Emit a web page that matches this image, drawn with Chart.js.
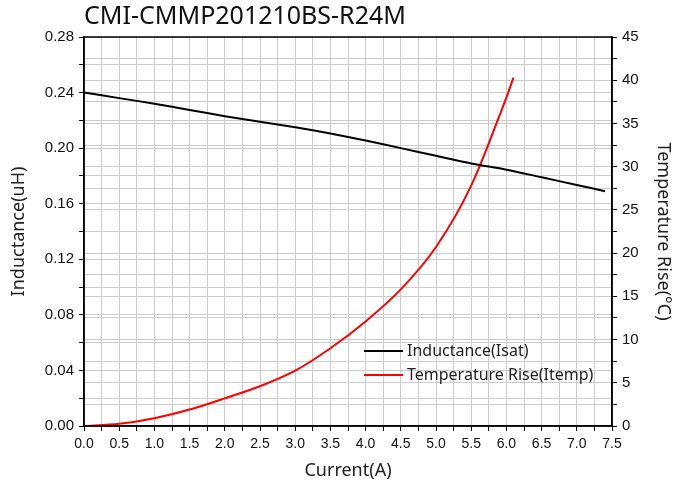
<!DOCTYPE html>
<html>
<head>
<meta charset="utf-8">
<script src="https://cdn.jsdelivr.net/npm/chart.js@4.4.1/dist/chart.umd.min.js"></script>
<style>
  html, body { margin: 0; padding: 0; background: #fff; }
  #wrap { width: 678px; height: 486px; }
</style>
</head>
<body>
<div id="wrap"><canvas id="chart"></canvas></div>
<script>
// inductance vs current
const indCurrent = [0, 0.5, 1.0, 1.5, 2.0, 2.5, 3.0, 3.5, 4.0, 4.5, 5.0, 5.5, 6.0, 6.5, 7.0, 7.4];
const indValues = [0.240, 0.236, 0.232, 0.2275, 0.223, 0.219, 0.215, 0.2105, 0.2055, 0.200, 0.1945, 0.189, 0.1845, 0.179, 0.1735, 0.169];

// temperature rise vs current
const tempCurrent = [0, 0.5, 1.0, 1.5, 2.0, 2.5, 3.0, 3.5, 4.0, 4.5, 5.0, 5.5, 6.0, 6.1];
const tempValues = [0, 0.25, 0.9, 1.9, 3.2, 4.6, 6.4, 9.0, 12.1, 15.8, 20.7, 27.8, 38.0, 40.3];

const seriesLabels = ['Inductance(Isat)', 'Temperature Rise(Itemp)'];
const titleText = 'CMI-CMMP201210BS-R24M';

const xTickFont = { family: 'Liberation Sans', size: 14 };
const yTickFont = { family: 'Liberation Sans', size: 15 };
const labelFont = { family: 'Noto Sans', size: 18 };

function isMultiple(v, step) {
  let r = v / step;
  return Math.abs(r - Math.round(r)) < 1e-6;
}

// frame around the plot + legend inside the plot
const framePlugin = {
  id: 'frame',
  afterDraw(chart) {
    const ctx = chart.ctx;
    const a = chart.chartArea;
    ctx.save();
    ctx.strokeStyle = '#000';
    ctx.lineWidth = 1.5;
    ctx.strokeRect(a.left, a.top, a.right - a.left, a.bottom - a.top);

    // legend
    ctx.font = '16px "Noto Sans"';
    ctx.textBaseline = 'middle';
    chart.data.datasets.forEach(function (ds, i) {
      let y = 351 + i * 24;
      ctx.strokeStyle = ds.borderColor;
      ctx.lineWidth = 2;
      ctx.beginPath();
      ctx.moveTo(364, y);
      ctx.lineTo(403, y);
      ctx.stroke();
      ctx.fillStyle = '#222';
      ctx.fillText(ds.label, 407, y);
    });
    ctx.restore();
  }
};

const config = {
  type: 'line',
  data: {
    datasets: [
      {
        label: seriesLabels[0],
        data: indCurrent.map((x, i) => ({ x: x, y: indValues[i] })),
        borderColor: '#000000',
        borderWidth: 2,
        pointRadius: 0,
        tension: 0.3,
        yAxisID: 'y',
      },
      {
        label: seriesLabels[1],
        data: tempCurrent.map((x, i) => ({ x: x, y: tempValues[i] })),
        borderColor: '#ff0000',
        borderWidth: 2,
        pointRadius: 0,
        tension: 0.3,
        yAxisID: 'y2',
      },
    ],
  },
  options: {
    responsive: true,
    maintainAspectRatio: false,
    animation: false,
    layout: { padding: 0 },
    plugins: {
      legend: { display: false },
      tooltip: { enabled: false },
      title: {
        display: true,
        text: titleText,
        align: 'start',
        fullSize: false,
        color: '#111',
        font: { family: 'Noto Sans', size: 25, weight: 'normal', lineHeight: 1.2 },
        padding: { top: 2, bottom: 5 },
      },
    },
    scales: {
      x: {
        type: 'linear',
        min: 0,
        max: 7.5,
        afterFit(scale) { scale.height = 60; },
        ticks: {
          stepSize: 0.25,
          autoSkip: false,
          maxRotation: 0,
          padding: 5,
          color: '#111',
          font: xTickFont,
          callback: (v) => (isMultiple(v, 0.5) ? v.toFixed(1) : ''),
        },
        grid: { color: '#cccccc', tickColor: '#000', tickLength: 5 },
        border: { color: '#000', width: 1.5 },
        title: { display: true, text: 'Current(A)', color: '#222', font: labelFont, padding: { top: 16 } },
      },
      y: {
        position: 'left',
        min: 0,
        max: 0.28,
        afterFit(scale) { scale.width = 84; },
        ticks: {
          stepSize: 0.02,
          autoSkip: false,
          padding: 5,
          color: '#111',
          font: yTickFont,
          callback: (v) => (isMultiple(v, 0.04) ? v.toFixed(2) : ''),
        },
        grid: { color: '#cccccc', tickColor: '#000', tickLength: 5 },
        border: { color: '#000', width: 1.5 },
        title: { display: true, text: 'Inductance(uH)', color: '#222', font: labelFont, padding: { top: 8, bottom: 0 } },
      },
      y2: {
        position: 'right',
        min: 0,
        max: 45,
        afterFit(scale) { scale.width = 66; },
        ticks: {
          stepSize: 2.5,
          autoSkip: false,
          padding: 5,
          color: '#111',
          font: yTickFont,
          callback: (v) => (isMultiple(v, 5) ? String(v) : ''),
        },
        grid: { color: '#cccccc', tickColor: '#000', tickLength: 5 },
        border: { color: '#000', width: 1.5 },
        title: { display: true, text: 'Temperature Rise(°C)', color: '#222', font: labelFont, padding: { top: 4 } },
      },
    },
  },
  plugins: [framePlugin],
};

new Chart(document.getElementById('chart'), config);
</script>
</body>
</html>
